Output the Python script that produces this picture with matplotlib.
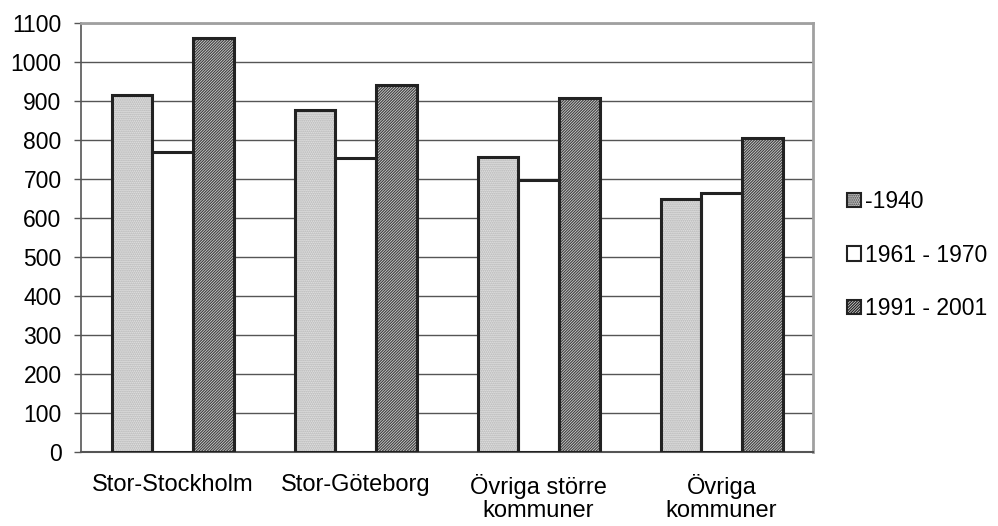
import matplotlib
matplotlib.use("Agg")
import matplotlib.pyplot as plt
from matplotlib.patches import Patch
import numpy as np

plt.rcParams['font.family'] = ['Liberation Sans', 'DejaVu Sans']
plt.rcParams['hatch.linewidth'] = 0.9

categories = ["Stor-Stockholm", "Stor-Göteborg", "Övriga större\nkommuner", "Övriga\nkommuner"]
series_names = ["-1940", "1961 - 1970", "1991 - 2001"]
s1940 = [915, 878, 757, 650]
s1961 = [770, 755, 697, 665]
s1991 = [1062, 940, 907, 805]
yticks = list(range(0, 1101, 100))

fig = plt.figure(figsize=(9.98, 5.26), dpi=100)
ax = fig.add_axes([81/998, 1-452/526, (813-81)/998, (452-23)/526])

x = np.arange(len(categories))
w = 1/4.5
fills = [
    dict(facecolor='#e2e2e2', hatch='........', hcolor='#b0b0b0'),
    dict(facecolor='white', hatch=None, hcolor='white'),
    dict(facecolor='#e0e0e0', hatch='////////////', hcolor='#444444'),
]
handles = []
for i, (vals, st) in enumerate(zip([s1940, s1961, s1991], fills)):
    pos = x + (i-1)*w
    ax.bar(pos, vals, width=w, facecolor=st['facecolor'], hatch=st['hatch'],
           edgecolor=st['hcolor'], linewidth=0, zorder=3)
    ax.bar(pos, vals, width=w, fill=False, edgecolor='#222222', linewidth=2.2, zorder=4)
    handles.append(Patch(facecolor=st['facecolor'], hatch=st['hatch'], edgecolor='#222222'))

ax.set_xlim(-0.5, 3.5)
ax.set_ylim(0, 1100)
ax.set_yticks(yticks)
ax.set_yticklabels([str(t) for t in yticks], fontsize=16.5)
ax.set_xticks(x)
ax.set_xticklabels(categories, fontsize=17, linespacing=1.05)
ax.tick_params(axis='x', length=0, pad=16)
ax.tick_params(axis='y', length=5, width=1, color='#555555', pad=9)
ax.yaxis.grid(True, color='#555555', linewidth=1, zorder=0)
ax.set_axisbelow(True)
for side in ['top', 'right']:
    ax.spines[side].set_color('#a0a0a0')
    ax.spines[side].set_linewidth(2)
ax.spines['left'].set_color('#555555')
ax.spines['left'].set_linewidth(1.2)
ax.spines['bottom'].set_color('#555555')
ax.spines['bottom'].set_linewidth(1.5)

leg = fig.legend(handles=handles, labels=series_names, loc='center left',
                 bbox_to_anchor=(847/998, 1-255/526), frameon=False, fontsize=16.5,
                 borderpad=0, borderaxespad=0,
                 handlelength=0.6, handleheight=0.6, handletextpad=0.2, labelspacing=1.33)
for p in leg.get_patches():
    p.set_linewidth(1.5)

fig.savefig("out.png", dpi=100)
